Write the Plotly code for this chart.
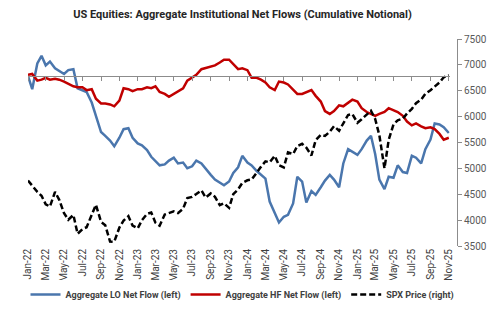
import pandas as pd
import plotly.graph_objects as go

# Semi-monthly observation dates (1st and 15th), Jan-2022 .. Nov-2025
dates = pd.date_range("2022-01-01", "2025-11-01", freq="SMS")

# Aggregate LO net flow (cumulative notional, left axis, arbitrary $bn units)
lo_flow = [0, -14, 13, 21, 11, 15, 8, 5, 2, 6,
           7, -13, -15, -17, -28, -42, -59, -63, -68, -74,
           -65, -56, -55, -65, -71, -73, -78, -85, -89, -94,
           -93, -89, -86, -92, -91, -97, -95, -89, -92, -98,
           -104, -109, -112, -115, -111, -102, -96, -84, -91, -94,
           -100, -104, -108, -132, -144, -154, -148, -146, -134, -106,
           -111, -133, -121, -125, -117, -110, -104, -109, -117, -92,
           -77, -80, -83, -77, -68, -63, -82, -109, -119, -106,
           -107, -94, -101, -102, -84, -86, -92, -77, -67, -50,
           -51, -54, -60]

# Aggregate HF net flow (cumulative notional, left axis)
hf_flow = [1, 2, -5, -4, -2, -4, -3, -4, -6, -8,
           -11, -12, -12, -15, -14, -24, -29, -29, -30, -32,
           -26, -13, -14, -16, -14, -14, -12, -13, -11, -17,
           -19, -22, -19, -17, -13, -5, -2, 1, 7, 8,
           10, 11, 14, 17, 17, 12, 7, 8, 6, -2,
           -2, -4, -7, -12, -15, -6, -7, -9, -14, -19,
           -19, -17, -15, -21, -27, -37, -40, -37, -31, -32,
           -28, -25, -27, -34, -38, -40, -42, -40, -38, -34,
           -36, -38, -42, -48, -52, -50, -53, -55, -54, -56,
           -61, -67, -65]

# SPX price (right axis)
spx = [4766, 4660, 4546, 4470, 4306, 4262, 4545, 4392, 4132, 4008, 4101, 3736,
       3825, 3863, 4119, 4297, 3966, 3901, 3586, 3583, 3856, 3992, 4076, 3895,
       3840, 3999, 4119, 4148, 3951, 3892, 4109, 4138, 4168, 4136, 4221, 4426,
       4450, 4505, 4577, 4437, 4515, 4450, 4288, 4327, 4237, 4502, 4595, 4719,
       4770, 4784, 4906, 5029, 5137, 5117, 5243, 5061, 5018, 5308, 5277, 5431,
       5475, 5400, 5250, 5543, 5648, 5626, 5709, 5815, 5728, 5870, 6032, 6051,
       5882, 5950, 6040, 6115, 5955, 5639, 5000, 5550, 5850, 5930, 5960, 6060,
       6150, 6260, 6330, 6440, 6510, 6580, 6660, 6760, 6800]

names = ["Aggregate LO Net Flow (left)", "Aggregate HF Net Flow (left)", "SPX Price (right)"]

FONT = "Roboto"
fig = go.Figure()
fig.add_trace(go.Scatter(x=dates, y=lo_flow, name=names[0], mode="lines",
                         line=dict(color="#4a76ad", width=2.5), yaxis="y"))
fig.add_trace(go.Scatter(x=dates, y=hf_flow, name=names[1], mode="lines",
                         line=dict(color="#c00000", width=2.5), yaxis="y"))
fig.add_trace(go.Scatter(x=dates, y=spx, name=names[2], mode="lines",
                         line=dict(color="black", width=2.5, dash="6px,3px"), yaxis="y2"))
# helper (invisible) so that the zero-line axis is drawn
fig.add_trace(go.Scatter(x=dates[:1], y=[0], xaxis="x2", yaxis="y", mode="markers",
                         marker=dict(opacity=0), showlegend=False, hoverinfo="skip"))

xr = ["2022-01-01", "2025-11-04"]
fig.update_layout(
    width=500, height=321,
    margin=dict(l=28, r=43, t=39, b=64),
    paper_bgcolor="white", plot_bgcolor="white",
    font=dict(family=FONT, color="#404040"),
    title=dict(text="US Equities: Aggregate Institutional Net Flows (Cumulative Notional)",
               x=0.5, xref="paper", y=0.955, yanchor="middle",
               font=dict(family=FONT, size=11, color="#262626", weight="bold")),
    xaxis=dict(domain=[0, 0.983], range=xr, type="date", tickformat="%b-%y",
               dtick="M2", tick0="2022-01-01", tickangle=-90, showline=False,
               ticks="", showgrid=False, zeroline=False,
               tickfont=dict(size=10, color="#404040", family=FONT)),
    xaxis2=dict(domain=[0, 0.983], range=xr, type="date", overlaying="x", anchor="free",
                position=0.822, showline=True, linecolor="#8c8c8c", linewidth=1,
                ticks="outside", ticklen=4, tickcolor="#8c8c8c", dtick="M2",
                tick0="2022-01-01", showticklabels=False, showgrid=False, zeroline=False),
    yaxis=dict(range=[-178.7, 38.7], visible=False),
    yaxis2=dict(overlaying="y", side="right", anchor="free", position=1.0,
                range=[3500, 7500], dtick=500, showline=True, linecolor="#8c8c8c",
                ticks="outside", ticklen=4, tickcolor="#8c8c8c", showgrid=False,
                zeroline=False, tickfont=dict(size=10, color="#595959", family=FONT)),
    legend=dict(orientation="h", x=0.5, xanchor="center", y=-0.234, yanchor="middle",
                font=dict(size=9, color="#404040", family=FONT, weight="bold"),
                itemwidth=30, tracegroupgap=0, entrywidth=0),
    showlegend=True,
)

fig.write_html("out.html")
